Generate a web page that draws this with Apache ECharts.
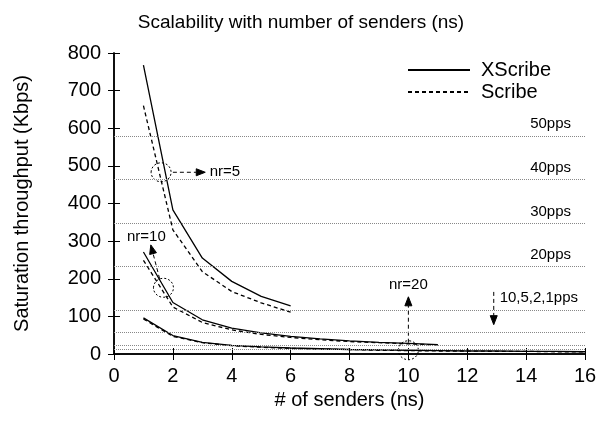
<!DOCTYPE html>
<html>
<head>
<meta charset="utf-8">
<script src="https://cdn.jsdelivr.net/npm/echarts@6/dist/echarts.min.js"></script>
<style>
  html, body { margin: 0; padding: 0; background: #fff; }
  #chart { width: 602px; height: 423px; }
</style>
</head>
<body>
<div id="chart"></div>
<script>
// number of senders
var senders5 = [1, 2, 3, 4, 5, 6];
var senders10 = [1, 2, 3, 4, 5, 6, 7, 8, 9, 10, 11];
var senders20 = [1, 2, 3, 4, 5, 6, 7, 8, 9, 10, 11, 12, 13, 14, 15, 16];

// saturation throughput (Kbps)
var xscribe5 = [768, 383, 255, 193, 153, 128];
var scribe5 = [660, 330, 219, 166, 136, 111];
var xscribe10 = [271, 137, 91, 69, 56, 47, 40, 35, 31, 28, 25];
var scribe10 = [249, 125, 84, 64, 52, 44, 38, 33, 30, 27, 24];
var xscribe20 = [96, 49, 31, 23, 19, 16, 14, 12, 11, 10, 9, 8, 8, 7, 7, 6];
var scribe20 = [93, 47, 30, 22, 18, 15, 13, 12, 10, 9, 8, 8, 7, 7, 6, 6];

// reference rates (Kbps) and their labels
var ppsLevels = [580, 464, 348, 232, 116, 58, 23, 12];
var ppsLabels = ['50pps', '40pps', '30pps', '20pps', '', '', '', ''];

// annotations: ring centre, arrow from/to, text position (data units)
var noteText = ['nr=5', 'nr=10', 'nr=20', '10,5,2,1pps'];
var noteRing = [[1.6, 483], [1.68, 176], [10.0, 10], null];
var noteArrowFrom = [[2.0, 483], [1.55, 200], [10.0, 30], [12.9, 165]];
var noteArrowTo = [[3.1, 483], [1.25, 290], [10.0, 152], [12.9, 78]];
var noteTextAt = [[3.25, 485], [1.1, 311], [10.0, 185], [13.1, 150]];
var noteAlign = ['left', 'center', 'center', 'left'];

var FONT = 'Liberation Sans';

function zip(xs, ys) {
  return xs.map(function (x, i) { return [x, ys[i]]; });
}

function lineSeries(name, xs, ys, dashed) {
  return {
    name: name,
    type: 'line',
    data: zip(xs, ys),
    symbol: 'none',
    smooth: false,
    lineStyle: { color: '#000', width: 1.3, type: dashed ? [4, 3] : 'solid' },
    itemStyle: { color: '#000' },
    emphasis: { disabled: true },
    z: 3
  };
}

function renderNote(params, api) {
  var i = params.dataIndex;
  var kids = [];
  var dash = { fill: null, stroke: '#000', lineWidth: 1, lineDash: [4, 3] };
  if (noteRing[i]) {
    var c = api.coord(noteRing[i]);
    kids.push({ type: 'ellipse', shape: { cx: c[0], cy: c[1], rx: 10, ry: 9.5 },
      style: { fill: null, stroke: '#000', lineWidth: 1, lineDash: [2, 2] } });
  }
  var p0 = api.coord(noteArrowFrom[i]);
  var p1 = api.coord(noteArrowTo[i]);
  var dx = p1[0] - p0[0], dy = p1[1] - p0[1];
  var len = Math.sqrt(dx * dx + dy * dy);
  var ux = dx / len, uy = dy / len;
  var hl = 9, hw = 3.5;
  var bx = p1[0] - ux * hl, by = p1[1] - uy * hl;
  kids.push({ type: 'line', shape: { x1: p0[0], y1: p0[1], x2: bx, y2: by }, style: dash });
  kids.push({ type: 'polygon', shape: { points: [
    [p1[0], p1[1]], [bx - uy * hw, by + ux * hw], [bx + uy * hw, by - ux * hw]
  ] }, style: { fill: '#000', stroke: '#000' } });
  var t = api.coord(noteTextAt[i]);
  kids.push({ type: 'text', x: t[0], y: t[1], style: {
    text: noteText[i], fontSize: 15, fontFamily: FONT, fill: '#000',
    align: noteAlign[i], verticalAlign: 'middle' } });
  return { type: 'group', children: kids };
}

document.addEventListener('DOMContentLoaded', function () {
  var myChart = echarts.init(document.getElementById('chart'), null, { renderer: 'canvas' });

  var tickAxis = {
    type: 'value',
    axisLine: { lineStyle: { color: '#000', width: 1.5 } },
    axisTick: { inside: true, length: 6, lineStyle: { color: '#000', width: 1 } },
    splitLine: { show: false }
  };

  var option = {
    backgroundColor: '#fff',
    animation: false,
    title: {
      text: 'Scalability with number of senders (ns)',
      left: 'center',
      top: 8,
      textStyle: { fontFamily: FONT, fontSize: 19, fontWeight: 'normal', color: '#000' }
    },
    legend: {
      data: ['XScribe', 'Scribe'],
      orient: 'vertical',
      left: 402,
      top: 55,
      itemWidth: 62,
      itemHeight: 14,
      itemGap: 2,
      itemStyle: { opacity: 0 },
      textStyle: { fontFamily: FONT, fontSize: 20, color: '#000', padding: [0, 0, 0, 6] },
      selectedMode: false
    },
    grid: { left: 114, right: 17, top: 53, bottom: 69 },
    xAxis: [
      Object.assign({}, tickAxis, {
        min: 0, max: 16, interval: 2,
        name: '# of senders (ns)',
        nameLocation: 'middle',
        nameGap: 35,
        nameTextStyle: { fontFamily: FONT, fontSize: 20, color: '#000' },
        axisLabel: { fontFamily: FONT, fontSize: 20, color: '#000', margin: 12 }
      }),
      Object.assign({}, tickAxis, {
        min: 0, max: 16, interval: 2, position: 'top',
        axisLabel: { show: false }
      })
    ],
    yAxis: [
      Object.assign({}, tickAxis, {
        min: 0, max: 800, interval: 100,
        name: 'Saturation throughput (Kbps)',
        nameLocation: 'middle',
        nameGap: 82,
        nameTextStyle: { fontFamily: FONT, fontSize: 20, color: '#000' },
        axisLabel: { fontFamily: FONT, fontSize: 20, color: '#000', margin: 13 }
      }),
      Object.assign({}, tickAxis, {
        min: 0, max: 800, interval: 100, position: 'right',
        axisLabel: { show: false }
      })
    ],
    series: [
      lineSeries('XScribe', senders5, xscribe5, false),
      lineSeries('Scribe', senders5, scribe5, true),
      lineSeries('XScribe', senders10, xscribe10, false),
      lineSeries('Scribe', senders10, scribe10, true),
      lineSeries('XScribe', senders20, xscribe20, false),
      lineSeries('Scribe', senders20, scribe20, true),
      {
        name: 'rates',
        type: 'line',
        data: [],
        silent: true,
        markLine: {
          silent: true,
          symbol: 'none',
          animation: false,
          lineStyle: { color: '#888', width: 1, type: [1, 1] },
          label: {
            position: 'insideEndTop',
            fontFamily: FONT, fontSize: 15, color: '#000',
            distance: [14, 4],
            formatter: function (p) { return ppsLabels[p.dataIndex]; }
          },
          emphasis: { disabled: true },
          data: ppsLevels.map(function (v) { return { yAxis: v }; })
        },
        z: 1
      },
      {
        name: 'notes',
        type: 'custom',
        renderItem: renderNote,
        data: noteText.map(function (t, i) { return i; }),
        silent: true,
        z: 4
      }
    ]
  };

  myChart.setOption(option);
  window.addEventListener('resize', function () { myChart.resize(); });
});
</script>
</body>
</html>
